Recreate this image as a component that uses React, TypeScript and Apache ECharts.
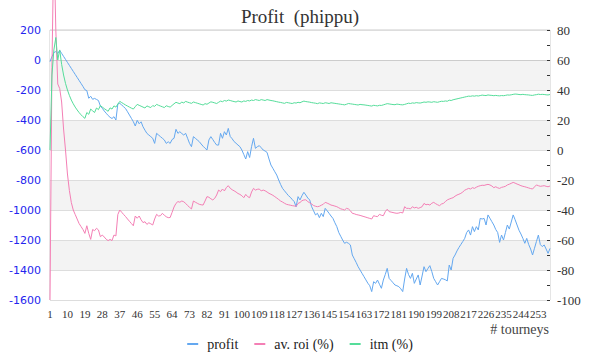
import React, { useEffect, useRef } from "react";
import * as echarts from "echarts";

const tourneys: string[] = Array.from({ length: 259 }, (_, i) => String(i + 1));

const profit: number[] = [
  -11, 22, 50, 56, 44, 64, 44, 24, 4, -16,
  -36, -56, -76, -96, -116, -136, -156, -176, -198, -204,
  -255, -242, -262, -256, -263, -270, -307, -322, -340, -355,
  -370, -382, -390, -378, -400, -293, -289, -300, -312, -324,
  -345, -367, -389, -411, -440, -402, -425, -412, -445, -468,
  -489, -500, -511, -522, -556, -489, -500, -511, -522, -533,
  -556, -545, -556, -530, -522, -462, -489, -478, -490, -500,
  -489, -522, -556, -578, -511, -522, -533, -544, -560, -575,
  -588, -600, -533, -511, -530, -550, -567, -567, -489, -522,
  -478, -500, -456, -510, -525, -544, -555, -567, -578, -600,
  -630, -660, -611, -650, -578, -522, -589, -578, -571, -585,
  -600, -607, -616, -660, -700, -722, -745, -767, -800, -830,
  -856, -872, -888, -904, -915, -930, -944, -978, -911, -933,
  -905, -882, -900, -920, -933, -978, -1005, -1033, -1022, -1051,
  -1022, -1044, -989, -1005, -1022, -1040, -1056, -1085, -1111, -1150,
  -1175, -1200, -1222, -1215, -1222, -1233, -1300, -1325, -1350, -1378,
  -1400, -1422, -1444, -1466, -1488, -1505, -1544, -1478, -1489, -1467,
  -1495, -1522, -1467, -1430, -1389, -1456, -1470, -1485, -1500, -1505,
  -1511, -1525, -1544, -1460, -1389, -1430, -1456, -1422, -1489, -1460,
  -1433, -1500, -1440, -1378, -1411, -1390, -1371, -1410, -1456, -1478,
  -1500, -1478, -1456, -1460, -1465, -1473, -1367, -1400, -1322, -1300,
  -1273, -1250, -1230, -1210, -1189, -1150, -1133, -1167, -1111, -1144,
  -1111, -1133, -1056, -1060, -1056, -1100, -1033, -1055, -1078, -1100,
  -1130, -1150, -1216, -1167, -1200, -1150, -1100, -1127, -1080, -1033,
  -1065, -1100, -1135, -1160, -1189, -1222, -1189, -1230, -1260, -1300,
  -1255, -1210, -1167, -1230, -1244, -1233, -1260, -1289, -1256,
];

const avRoi: number[] = [
  -100, 55, 140, 80, 44, 41, 32, 14, 0, -16,
  -27, -35, -40, -43, -46, -49, -51, -53, -55.6, -50.5,
  -55.6, -59.6, -53, -53.8, -52.2, -53.3, -57.8, -56.7, -58, -59.5,
  -60.4, -59.6, -60.4, -56.7, -57.3, -43, -40, -41.5, -43, -44.4,
  -46, -47.5, -49, -50.5, -44, -45.5, -44, -46.5, -48.4, -47.8,
  -49.6, -48.5, -49.2, -50, -46, -42.9, -44, -43.8, -42.2, -43.5,
  -44.5, -45.1, -45, -41.6, -38, -35.6, -34.4, -34.8, -34, -34.5,
  -35.6, -37, -38.2, -39.3, -34, -34.8, -35.5, -36.2, -36.5, -36.7,
  -34, -31.1, -31.5, -32.5, -33.3, -32.2, -30, -26.7, -27.8, -26,
  -27.3, -25, -23.8, -25.5, -26.5, -27.2, -28, -29, -29.6, -30.5,
  -31.8, -29.6, -31.1, -31.8, -28, -25.6, -26.7, -26.2, -26, -27.3,
  -26.7, -27.2, -28, -28.9, -29.5, -30.2, -31.1, -32, -33, -34,
  -34.7, -35.5, -36.2, -36.5, -36.8, -37.1, -37.3, -37.6, -35.6, -35,
  -33.8, -33.3, -33.2, -34.4, -35.2, -36, -37, -37.5, -37.8, -37.5,
  -36.8, -36.2, -34.9, -35.4, -36, -36.7, -37, -37.4, -37.8, -38.5,
  -39.2, -39.6, -40, -38.9, -39.3, -40.5, -42.2, -42.5, -43, -43.3,
  -43.6, -44, -44.4, -44.8, -45.2, -45.6, -46, -43.8, -44.2, -44.4,
  -42.9, -43.5, -43.8, -41.1, -39.5, -41.1, -41.4, -41.7, -42, -42.2,
  -42, -41.6, -42, -37.8, -38.9, -38.9, -39.3, -37.8, -38.6, -38.2,
  -38.9, -38.4, -37.8, -35.6, -36.5, -36.2, -36.7, -35.5, -34.9, -35.8,
  -36.5, -37.1, -36, -35.6, -34.4, -33.3, -32.7, -32.2, -31.8, -30.8,
  -30, -29.5, -28.9, -28, -26.8, -26.2, -25.6, -26, -25.1, -25.6,
  -24.8, -24.2, -23.8, -23.5, -23.6, -23.2, -22.9, -23.3, -24, -25.1,
  -24.5, -25.2, -25.6, -24.9, -24.6, -24.2, -23.3, -22.8, -22.2, -21.6,
  -22.1, -22.7, -23.2, -23.8, -24.2, -24.5, -24.9, -25.3, -25.7, -26,
  -24.6, -23.3, -23.8, -24.2, -24, -23.8, -24.2, -24.5, -24,
];

const itm: number[] = [
  0, 50, 66.7, 75, 60, 66.7, 57.1, 50, 44.4, 40,
  36.4, 33.3, 30.8, 28.6, 26.7, 25, 23.5, 22.2, 21.1, 25,
  23.8, 27.3, 26.1, 25, 28, 26.9, 29.6, 28.6, 27.6, 26.7,
  25.8, 28.1, 27.3, 29.4, 28.6, 30.6, 32.4, 31.6, 30.8, 30,
  29.3, 28.6, 27.9, 27.3, 28.9, 30.4, 29.8, 29.2, 28.6, 28,
  29.4, 28.8, 28.3, 29.6, 29.1, 30.4, 29.8, 29.3, 28.8, 28.3,
  29.5, 29, 28.6, 29.7, 30.8, 31.8, 31.3, 30.9, 31.9, 31.4,
  32.4, 31.9, 31.5, 31.1, 32, 31.6, 31.2, 30.8, 30.4, 30,
  30.9, 30.5, 31.3, 32.1, 31.8, 31.4, 31, 31.8, 32.6, 32.2,
  33, 32.6, 33.3, 33, 32.6, 32.3, 32, 32.7, 32.3, 32,
  32.7, 32.4, 33, 32.7, 33.3, 33, 33.6, 33.3, 33, 33.6,
  33.3, 33, 33.6, 33.3, 33, 32.8, 32.5, 32.2, 31.9, 31.7,
  31.4, 31.1, 31.7, 31.5, 31.2, 31, 31.5, 31.3, 31.8, 31.5,
  32.1, 32.6, 32.3, 32.1, 31.9, 31.6, 31.4, 31.2, 30.9, 31.4,
  31.2, 31, 31.5, 31.3, 31, 31.5, 31.3, 31.1, 30.9, 30.7,
  30.5, 30.3, 30.1, 30.5, 31, 30.8, 30.6, 30.4, 30.2, 30,
  30.4, 30.2, 30.1, 29.9, 29.7, 29.5, 29.3, 29.8, 29.6, 29.4,
  29.8, 29.7, 30.1, 30.5, 30.9, 30.7, 30.5, 30.3, 30.2, 30.6,
  30.4, 30.2, 30.1, 30.4, 30.8, 31.2, 31, 31.4, 31.2, 31.6,
  31.4, 31.3, 31.6, 32, 31.8, 32.1, 32, 31.8, 32.2, 32,
  31.8, 32.2, 32.5, 32.4, 32.7, 32.5, 33.2, 33, 33.5, 33.8,
  34.1, 34.4, 34.7, 35, 35.3, 35.6, 35.9, 35.8, 36.1, 35.9,
  36.2, 36, 36.3, 36.6, 36.4, 36.3, 36.7, 36.5, 36.4, 36.2,
  36.4, 36.2, 36.1, 36.3, 36.2, 36.4, 36.7, 36.6, 36.8, 37.1,
  37.3, 37.2, 37, 36.9, 37.1, 36.9, 36.8, 36.7, 36.5, 36.4,
  36.7, 36.9, 37.2, 37, 37.1, 37, 36.8, 36.7, 37,
];

const SERIF = "'Liberation Serif', 'DejaVu Serif', serif";

export default function App() {
  const ref = useRef<HTMLDivElement>(null);
  useEffect(() => {
    if (!ref.current) return;
    const chart = echarts.init(ref.current, undefined, { renderer: "svg" });
    chart.setOption({
      animation: false,
      title: {
        text: "Profit  (phippu)",
        left: "center",
        top: 2,
        textStyle: { fontFamily: SERIF, fontSize: 19, fontWeight: "normal", color: "#333" },
      },
      grid: { left: 50, right: 50, top: 30, bottom: 60, show: true, borderColor: "#ccc", borderWidth: 1 },
      legend: {
        left: "center",
        top: 332,
        icon: "rect",
        itemWidth: 11,
        itemHeight: 2,
        itemGap: 16,
        textStyle: { fontFamily: SERIF, fontSize: 14, color: "#222", padding: [0, 0, 0, 4] },
        data: ["profit", "av. roi (%)", "itm (%)"],
      },
      xAxis: {
        type: "category",
        boundaryGap: false,
        data: tourneys,
        axisLine: { show: true, lineStyle: { color: "#ccc" } },
        axisTick: { show: false },
        axisLabel: { interval: 8, fontFamily: SERIF, fontSize: 11, color: "#333", margin: 8 },
        splitLine: { show: false },
      },
      yAxis: [
        {
          type: "value",
          position: "left",
          min: -1600,
          max: 200,
          interval: 200,
          axisLine: { show: false },
          axisTick: { show: false },
          axisLabel: {
            fontFamily: "'DejaVu Sans', sans-serif",
            fontSize: 11,
            color: "#2424ee",
            margin: 9,
            formatter: (v: number) => String(v),
          },
          splitLine: { show: true, lineStyle: { color: "#ddd" } },
          splitArea: { show: true, areaStyle: { color: ["#ffffff", "#f3f3f3"] } },
        },
        {
          type: "value",
          position: "right",
          min: -100,
          max: 80,
          interval: 20,
          axisLine: { show: false },
          axisTick: { show: true, inside: true, length: 3, lineStyle: { color: "#333" } },
          minorTick: { show: true, splitNumber: 2, length: 3, lineStyle: { color: "#333" } },
          axisLabel: { fontFamily: SERIF, fontSize: 13, color: "#333", margin: 7 },
          splitLine: { show: false },
        },
      ],
      series: [
        {
          name: "profit",
          type: "line",
          yAxisIndex: 0,
          data: profit,
          symbol: "none",
          clip: false,
          color: "#64a8f0",
          lineStyle: { width: 1, color: "#64a8f0" },
        },
        {
          name: "av. roi (%)",
          type: "line",
          yAxisIndex: 1,
          data: avRoi,
          symbol: "none",
          clip: false,
          color: "#f47fb5",
          lineStyle: { width: 1, color: "#f47fb5" },
        },
        {
          name: "itm (%)",
          type: "line",
          yAxisIndex: 1,
          data: itm,
          symbol: "none",
          clip: false,
          color: "#55dd9a",
          lineStyle: { width: 1, color: "#55dd9a" },
        },
      ],
      graphic: [
        {
          type: "text",
          right: 51,
          top: 322,
          style: { text: "# tourneys", fontFamily: SERIF, fontSize: 14, fill: "#444" },
        },
      ],
    });
    return () => chart.dispose();
  }, []);
  return <div ref={ref} style={{ position: "absolute", left: 0, top: 0, width: 600, height: 360 }} />;
}
